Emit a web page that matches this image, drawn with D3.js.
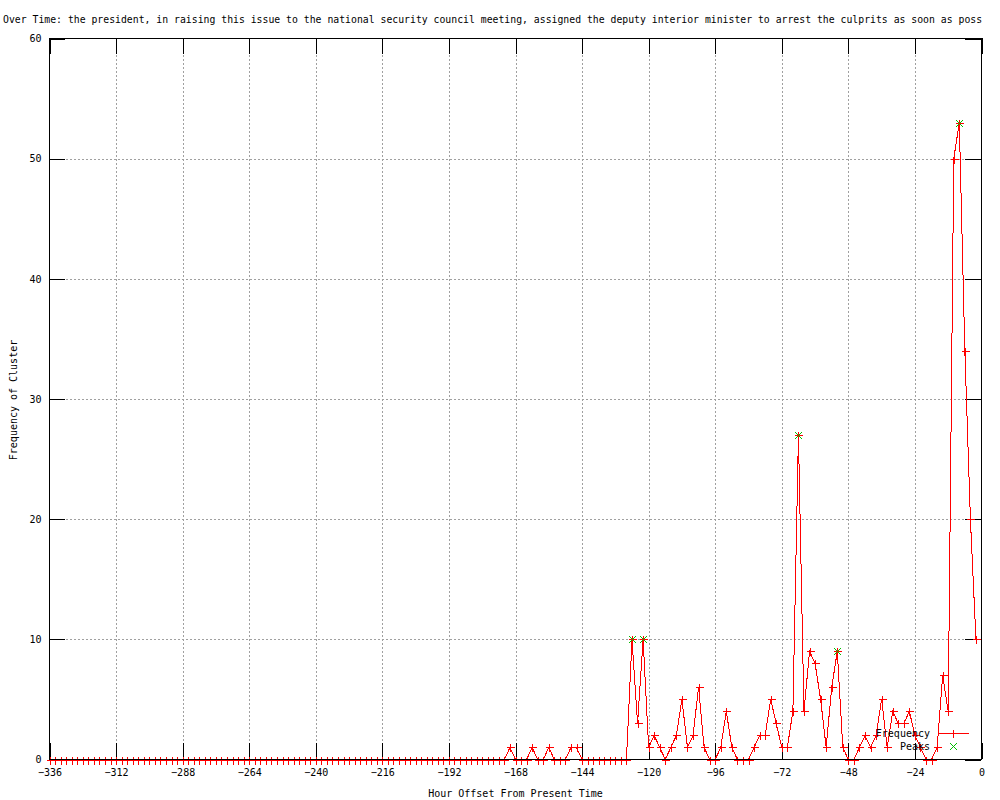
<!DOCTYPE html>
<html>
<head>
<meta charset="utf-8">
<script src="https://cdn.jsdelivr.net/npm/d3@7"></script>
<style>
  body { margin: 0; background: #fff; }
  svg { display: block; background: #fff; }
  text { font-family: "DejaVu Sans Mono", "Liberation Mono", monospace; font-size: 10px; fill: #000; }
</style>
</head>
<body>
<div id="chart"></div>
<script>
// hours before present (one bin every 2 hours)
const hours = [
  -336, -334, -332, -330, -328, -326, -324, -322, -320, -318, -316, -314,
  -312, -310, -308, -306, -304, -302, -300, -298, -296, -294, -292, -290,
  -288, -286, -284, -282, -280, -278, -276, -274, -272, -270, -268, -266,
  -264, -262, -260, -258, -256, -254, -252, -250, -248, -246, -244, -242,
  -240, -238, -236, -234, -232, -230, -228, -226, -224, -222, -220, -218,
  -216, -214, -212, -210, -208, -206, -204, -202, -200, -198, -196, -194,
  -192, -190, -188, -186, -184, -182, -180, -178, -176, -174, -172, -170,
  -168, -166, -164, -162, -160, -158, -156, -154, -152, -150, -148, -146,
  -144, -142, -140, -138, -136, -134, -132, -130, -128, -126, -124, -122,
  -120, -118, -116, -114, -112, -110, -108, -106, -104, -102, -100, -98,
  -96, -94, -92, -90, -88, -86, -84, -82, -80, -78, -76, -74,
  -72, -70, -68, -66, -64, -62, -60, -58, -56, -54, -52, -50,
  -48, -46, -44, -42, -40, -38, -36, -34, -32, -30, -28, -26,
  -24, -22, -20, -18, -16, -14, -12, -10, -8, -6, -4, -2
];

const freq = [
  0, 0, 0, 0, 0, 0, 0, 0, 0, 0, 0, 0,
  0, 0, 0, 0, 0, 0, 0, 0, 0, 0, 0, 0,
  0, 0, 0, 0, 0, 0, 0, 0, 0, 0, 0, 0,
  0, 0, 0, 0, 0, 0, 0, 0, 0, 0, 0, 0,
  0, 0, 0, 0, 0, 0, 0, 0, 0, 0, 0, 0,
  0, 0, 0, 0, 0, 0, 0, 0, 0, 0, 0, 0,
  0, 0, 0, 0, 0, 0, 0, 0, 0, 0, 0, 1,
  0, 0, 0, 1, 0, 0, 1, 0, 0, 0, 1, 1,
  0, 0, 0, 0, 0, 0, 0, 0, 0, 10, 3, 10,
  1, 2, 1, 0, 1, 2, 5, 1, 2, 6, 1, 0,
  0, 1, 4, 1, 0, 0, 0, 1, 2, 2, 5, 3,
  1, 1, 4, 27, 4, 9, 8, 5, 1, 6, 9, 1,
  0, 0, 1, 2, 1, 2, 5, 1, 4, 3, 3, 4,
  2, 1, 0, 0, 1, 7, 4, 50, 53, 34, 20, 10
];

const peakHours = [-126, -122, -66, -52, -8];
const peakFreq = [10, 10, 27, 9, 53];

const xTicks = [-336, -312, -288, -264, -240, -216, -192, -168, -144, -120, -96, -72, -48, -24, 0];
const yTicks = [0, 10, 20, 30, 40, 50, 60];

const titleText = 'Over Time: the president, in raising this issue to the national security council meeting, assigned the deputy interior minister to arrest the culprits as soon as poss';

function drawChart() {
    const width = 1000;
    const height = 800;
    const x0 = 49.5, x1 = 981.5, y0 = 38.5, y1 = 759.5;
    const tic = 16;

    const x = d3.scaleLinear().domain([-336, 0]).range([x0, x1]);
    const y = d3.scaleLinear().domain([0, 60]).range([y1, y0]);

    const svg = d3.select('#chart')
      .append('svg')
      .attr('width', width)
      .attr('height', height);

    // title, a bit smaller so it stays inside the page
    svg.append('text')
      .attr('x', 3)
      .attr('y', 23)
      .style('font-size', '9.8px')
      .text(titleText);

    // grid
    const grid = svg.append('g')
      .attr('stroke', '#a0a0a0')
      .attr('stroke-dasharray', '2,2')
      .attr('stroke-width', 1)
      .attr('shape-rendering', 'crispEdges');
    grid.selectAll('.gx')
      .data(xTicks.slice(1, -1))
      .join('line')
      .attr('x1', d => Math.round(x(d)) + 0.5).attr('x2', d => Math.round(x(d)) + 0.5)
      .attr('y1', y0).attr('y2', y1);
    grid.selectAll('.gy')
      .data(yTicks.slice(1, -1))
      .join('line')
      .attr('y1', d => Math.round(y(d)) + 0.5).attr('y2', d => Math.round(y(d)) + 0.5)
      .attr('x1', x0).attr('x2', x1);

    // tick labels through d3 axes
    const xAxis = svg.append('g')
      .attr('transform', `translate(0,${y1})`)
      .call(d3.axisBottom(x).tickValues(xTicks).tickSize(0).tickPadding(9).tickFormat(d3.format('d')));
    const yAxis = svg.append('g')
      .attr('transform', `translate(${x0},0)`)
      .call(d3.axisLeft(y).tickValues(yTicks).tickSize(0).tickPadding(8).tickFormat(d3.format('d')));
    [xAxis, yAxis].forEach(a => {
        a.select('.domain').remove();
        a.selectAll('line').remove();
        a.attr('font-family', null).attr('font-size', null);
        a.selectAll('text').attr('fill', '#000');
    });

    // axis titles
    svg.append('text')
      .attr('x', (x0 + x1) / 2)
      .attr('y', 797)
      .attr('text-anchor', 'middle')
      .text('Hour Offset From Present Time');
    svg.append('text')
      .attr('transform', 'translate(17,400) rotate(-90)')
      .attr('text-anchor', 'middle')
      .text('Frequency of Cluster');

    // tick marks as 1px rects (mirrored on all sides)
    const tickRects = [];
    xTicks.forEach(d => {
        const px = Math.round(x(d));
        tickRects.push([px, y1 - tic, 1, tic]);
        tickRects.push([px, y0, 1, tic]);
    });
    yTicks.forEach(d => {
        const py = Math.round(y(d));
        tickRects.push([x0, py, tic, 1]);
        tickRects.push([x1 - tic, py, tic, 1]);
    });
    svg.append('g')
      .attr('fill', '#000')
      .selectAll('rect')
      .data(tickRects)
      .join('rect')
      .attr('x', d => Math.floor(d[0]))
      .attr('y', d => Math.floor(d[1]))
      .attr('width', d => d[2])
      .attr('height', d => d[3]);

    // frequency line + "+" markers
    const points = hours.map((h, i) => ({ h, v: freq[i] }));
    const line = d3.line().x(d => x(d.h)).y(d => y(d.v));
    svg.append('path')
      .datum(points)
      .attr('d', line)
      .attr('fill', 'none')
      .attr('stroke', '#ff0000')
      .attr('stroke-width', 1)
      .attr('shape-rendering', 'crispEdges');

    const plus = (cx, cy, s) => `M${cx - s},${cy}H${cx + s}M${cx},${cy - s}V${cy + s}`;
    const cross = (cx, cy, s) => `M${cx - s},${cy - s}L${cx + s},${cy + s}M${cx - s},${cy + s}L${cx + s},${cy - s}`;

    svg.append('g')
      .attr('shape-rendering', 'crispEdges')
      .selectAll('path')
      .data(points)
      .join('path')
      .attr('d', d => plus(Math.round(x(d.h)) + 0.5, Math.round(y(d.v)) + 0.5, 4))
      .attr('stroke', '#ff0000')
      .attr('fill', 'none');

    // peaks
    svg.append('g')
      .selectAll('path')
      .data(peakHours.map((h, i) => ({ h, v: peakFreq[i] })))
      .join('path')
      .attr('d', d => cross(Math.round(x(d.h)) + 0.5, Math.round(y(d.v)) + 0.5, 3.5))
      .attr('stroke', '#00c000')
      .attr('fill', 'none');

    // border
    svg.append('rect')
      .attr('x', x0).attr('y', y0)
      .attr('width', x1 - x0).attr('height', y1 - y0)
      .attr('fill', 'none')
      .attr('stroke', '#000')
      .attr('shape-rendering', 'crispEdges');

    // legend
    const key = svg.append('g');
    key.append('text').attr('x', 930).attr('y', 737).attr('text-anchor', 'end').text('Frequency');
    key.append('path').attr('d', `M938,733.5H969` + plus(953.5, 733.5, 4))
      .attr('stroke', '#ff0000').attr('fill', 'none').attr('shape-rendering', 'crispEdges');
    key.append('text').attr('x', 930).attr('y', 750).attr('text-anchor', 'end').text('Peaks');
    key.append('path').attr('d', cross(953.5, 746.5, 3.5))
      .attr('stroke', '#00c000').attr('fill', 'none');
}

document.addEventListener('DOMContentLoaded', () => {
    drawChart();
});
</script>
</body>
</html>
